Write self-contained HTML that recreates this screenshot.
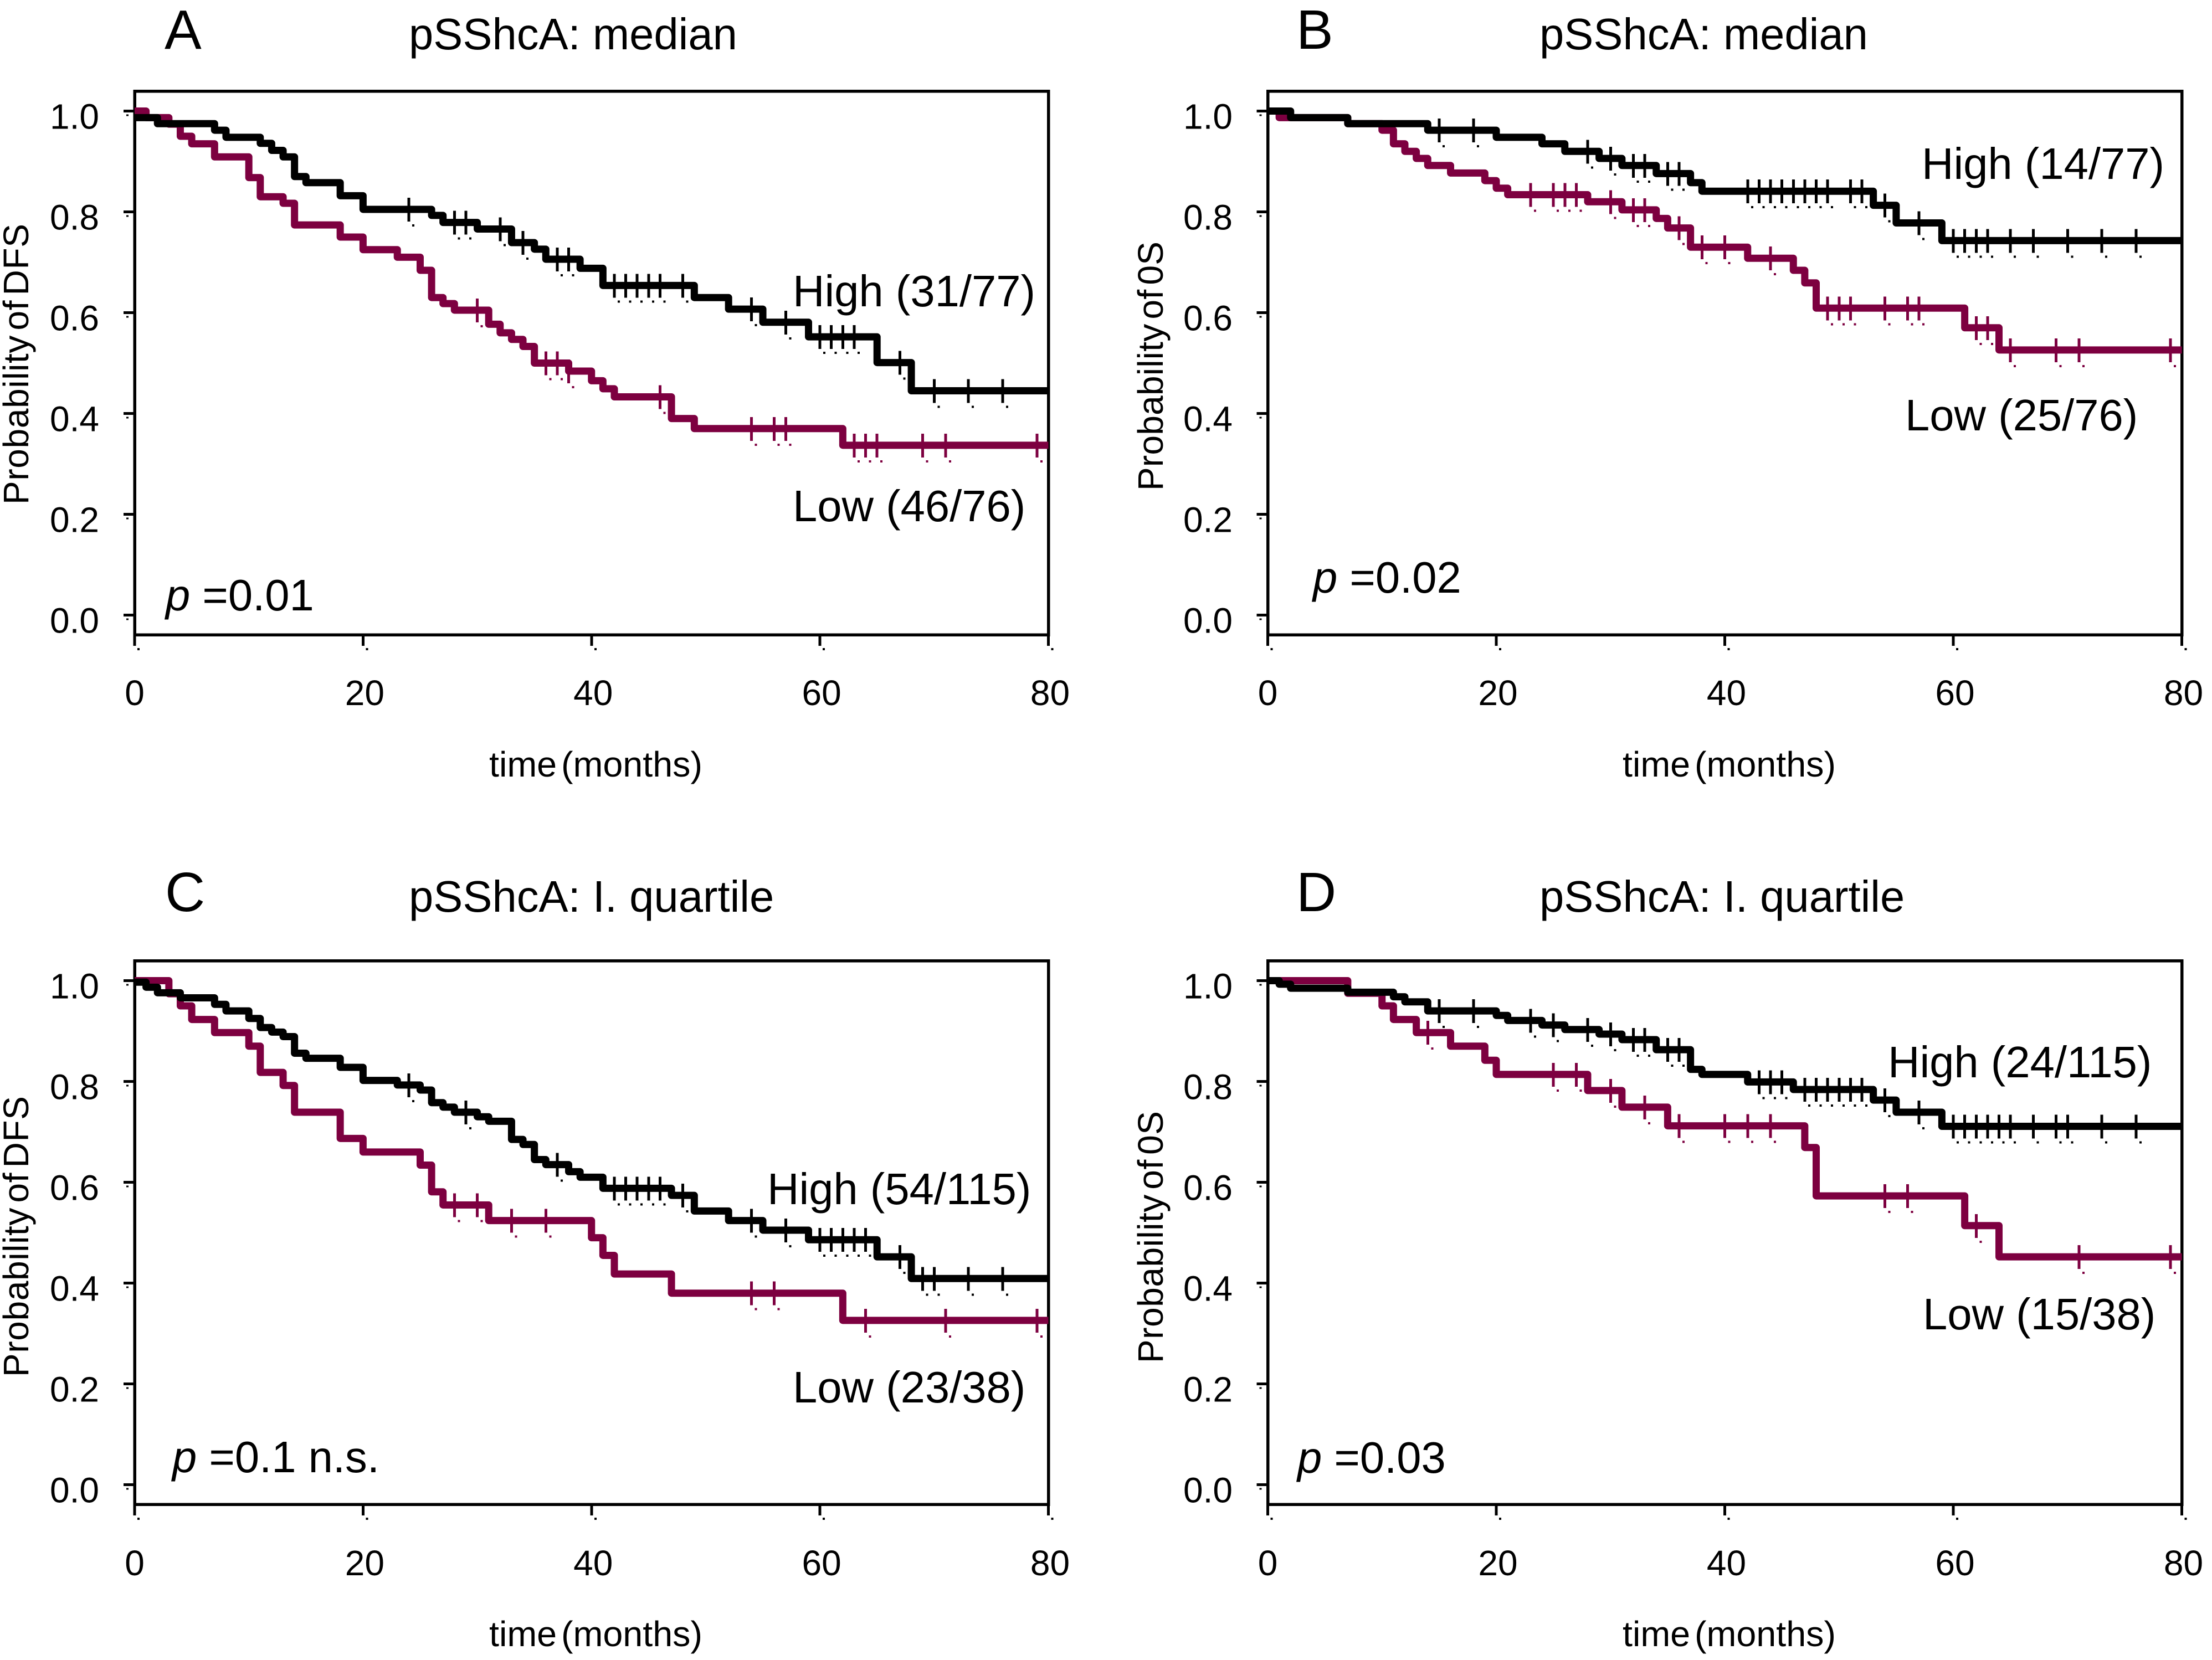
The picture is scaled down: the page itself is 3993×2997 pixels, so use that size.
<!DOCTYPE html>
<html lang="en">
<head>
<meta charset="utf-8">
<title>pSShcA Kaplan-Meier curves</title>
<style>
html,body{margin:0;padding:0;background:#fff;}
svg{display:block;}
text{font-family:"Liberation Sans",Arial,sans-serif;fill:#000;}
.big{font-size:79.6px;}
.letter{font-size:100px;}
.tick{font-size:64px;}
.axt{font-size:64px;word-spacing:-10px;}
</style>
</head>
<body>
<svg id="figure" xmlns="http://www.w3.org/2000/svg" width="3993" height="2997" viewBox="0 0 3993 2997">
<rect x="0" y="0" width="3993" height="2997" fill="#fff"/>
<g id="marks"></g>

<text class="letter" x="297" y="88">A</text>
<text class="big" x="738" y="89">pSShcA: median</text>
<text class="axt" transform="translate(51 911) rotate(-90)" textLength="507" lengthAdjust="spacing">Probability of DFS</text>
<text class="axt" x="883" y="1402" textLength="385" lengthAdjust="spacingAndGlyphs">time (months)</text>
<text class="big" x="1431" y="553">High (31/77)</text>
<text class="big" x="1431" y="941">Low (46/76)</text>
<text class="big" x="299" y="1102"><tspan font-style="italic">p</tspan> =0.01</text>

<text class="letter" x="2340" y="88">B</text>
<text class="big" x="2779" y="89">pSShcA: median</text>
<text class="axt" transform="translate(2099 886) rotate(-90)" textLength="450" lengthAdjust="spacing">Probability of 0S</text>
<text class="axt" x="2929" y="1402" textLength="385" lengthAdjust="spacingAndGlyphs">time (months)</text>
<text class="big" x="3469" y="323">High (14/77)</text>
<text class="big" x="3439" y="777">Low (25/76)</text>
<text class="big" x="2370" y="1070"><tspan font-style="italic">p</tspan> =0.02</text>

<text class="letter" x="298" y="1645">C</text>
<text class="big" x="738" y="1646">pSShcA: I. quartile</text>
<text class="axt" transform="translate(51 2486) rotate(-90)" textLength="507" lengthAdjust="spacing">Probability of DFS</text>
<text class="axt" x="883" y="2972" textLength="385" lengthAdjust="spacingAndGlyphs">time (months)</text>
<text class="big" x="1385" y="2174">High (54/115)</text>
<text class="big" x="1431" y="2532">Low (23/38)</text>
<text class="big" x="311" y="2658"><tspan font-style="italic">p</tspan> =0.1 n.s.</text>

<text class="letter" x="2340" y="1645">D</text>
<text class="big" x="2779" y="1646">pSShcA: I. quartile</text>
<text class="axt" transform="translate(2099 2461) rotate(-90)" textLength="455" lengthAdjust="spacing">Probability of 0S</text>
<text class="axt" x="2929" y="2972" textLength="385" lengthAdjust="spacingAndGlyphs">time (months)</text>
<text class="big" x="3408" y="1945">High (24/115)</text>
<text class="big" x="3471" y="2400">Low (15/38)</text>
<text class="big" x="2342" y="2659"><tspan font-style="italic">p</tspan> =0.03</text>
</svg>

<script>
// Axis tick values and labels
const xTickValues = [0, 20, 40, 60, 80];
const xTickLabels = ["0", "20", "40", "60", "80"];
const yTickValues = [1, 0.8, 0.6, 0.4, 0.2, 0];
const yTickLabels = ["1.0", "0.8", "0.6", "0.4", "0.2", "0.0"];

// Panel A
const aHighTimes = [0,2,7,8,11,12,13,14,15,18,20,26,27,30,33,35,36,39,41,49,52,55,59,65,68];
const aHighSurvival = [.987,.975,.962,.948,.936,.922,.909,.87,.858,.832,.805,.793,.779,.766,.739,.726,.706,.688,.654,.63,.607,.581,.552,.501,.445];
const aHighCensored = [24,28,29,32,34,37,38,42,43,44,45,46,48,54,57,60,61,62,63,67,70,73,76];
const aLowTimes = [0,1,3,4,5,7,10,11,13,14,18,20,23,25,26,27,28,31,32,33,34,35,38,40,41,42,47,49,62];
const aLowSurvival = [1,.987,.974,.95,.935,.909,.868,.83,.817,.774,.75,.725,.71,.684,.63,.618,.605,.577,.56,.547,.533,.5,.484,.465,.449,.433,.39,.37,.337];
const aLowCensored = [30,36,37,38,46,54,56,57,63,64,65,69,71,79];

// Panel B
const bHighTimes = [0,2,7,14,20,24,26,29,31,34,37,38,53,55,59];
const bHighSurvival = [1,.987,.975,.962,.948,.935,.92,.906,.892,.876,.858,.841,.813,.778,.743];
const bHighCensored = [15,18,28,30,32,33,35,36,42,43,44,45,46,47,48,49,51,52,54,57,60,61,62,63,65,67,70,73,76];
const bLowTimes = [0,1,7,10,11,12,13,14,16,19,20,21,28,31,34,35,37,42,46,47,48,61,64];
const bLowSurvival = [1,.987,.975,.962,.935,.92,.906,.892,.877,.862,.847,.834,.82,.804,.787,.768,.73,.708,.684,.659,.609,.57,.526];
const bLowCensored = [23,25,26,27,30,32,33,36,38,40,44,49,50,51,54,56,57,62,63,65,69,71,79];

// Panel C
const cHighTimes = [0,1,2,4,7,8,10,11,12,13,14,15,18,20,23,25,26,27,28,30,31,33,34,35,36,38,39,41,47,49,52,55,59,65,68];
const cHighSurvival = [.997,.987,.976,.966,.953,.94,.925,.907,.898,.889,.856,.846,.828,.802,.793,.783,.758,.749,.739,.73,.721,.685,.675,.645,.635,.621,.61,.588,.574,.543,.524,.505,.486,.452,.409];
const cHighCensored = [24,29,37,42,43,44,45,46,48,54,57,60,61,62,63,64,67,69,70,73,76];
const cLowTimes = [0,3,4,5,7,10,11,13,14,18,20,25,26,27,31,40,41,42,47,62];
const cLowSurvival = [1,.974,.95,.923,.897,.87,.818,.792,.739,.687,.66,.634,.581,.555,.524,.49,.455,.418,.38,.326];
const cLowCensored = [28,30,33,36,54,56,64,71,79];

// Panel D
const dHighTimes = [0,1,2,7,11,12,14,20,21,24,26,29,31,34,37,38,42,46,53,55,59];
const dHighSurvival = [1,.993,.985,.977,.968,.958,.94,.931,.921,.912,.903,.894,.883,.863,.824,.814,.799,.784,.763,.739,.711];
const dHighCensored = [15,18,23,25,28,30,32,33,35,36,43,44,45,47,48,49,50,51,52,54,57,60,61,62,63,64,65,67,69,70,73,76];
const dLowTimes = [0,7,10,11,13,16,19,20,28,31,35,47,48,61,64];
const dLowSurvival = [1,.975,.95,.923,.897,.87,.842,.814,.782,.749,.712,.669,.573,.514,.452];
const dLowCensored = [14,25,27,30,33,36,40,42,44,54,56,62,71,79];

const NS = "http://www.w3.org/2000/svg";
const root = document.getElementById("marks");
const HIGH_COLOR = "#000000";
const LOW_COLOR = "#7d0040";

function make(tag, attrs, parent) {
  const el = document.createElementNS(NS, tag);
  for (const k in attrs) el.setAttribute(k, attrs[k]);
  parent.appendChild(el);
  return el;
}

function survivalAt(times, survival, t) {
  let v = survival[0];
  for (let i = 0; i < times.length; i++) {
    if (times[i] <= t) v = survival[i];
  }
  return v;
}

function drawSeries(group, prefix, times, survival, censored, color, xScale, yScale) {
  let d = "M" + xScale(times[0]) + " " + yScale(survival[0]);
  for (let i = 1; i < times.length; i++) {
    d += "H" + xScale(times[i]) + "V" + yScale(survival[i]);
  }
  d += "H" + xScale(80);
  const line = make("path", {d: d, fill: "none", stroke: color, "stroke-width": 13, "stroke-linejoin": "round"}, group);
  
  

  censored.forEach(function (t) {
    const cx = xScale(t);
    const cy = yScale(survivalAt(times, survival, t));
    const mark = make("rect", {x: cx - 2.5, y: cy - 21, width: 5, height: 43, fill: color, "shape-rendering": "crispEdges"}, group);
    
    
    const dot = make("rect", {x: cx + 6, y: cy + 27, width: 4, height: 4, fill: color, "shape-rendering": "crispEdges"}, group);
    
    
  });
}

function drawPanel(id, left, right, top, bottom, yOne, xLabelY, yLabelX, high, low) {
  const group = make("g", {}, root);
  
  

  const xScale = function (t) { return left + (right - left) * t / 80; };
  const yScale = function (v) { return yOne + 910 * (1 - v); };

  const box = make("rect", {x: left, y: top, width: right - left, height: bottom - top, fill: "none", stroke: "#000", "stroke-width": 5.5, "shape-rendering": "crispEdges"}, group);
  
  

  xTickValues.forEach(function (v, i) {
    const px = xScale(v);
    const tick = make("line", {x1: px, x2: px, y1: bottom, y2: bottom + 20, stroke: "#000", "stroke-width": 5, "shape-rendering": "crispEdges"}, group);
    
    
    const dot = make("rect", {x: px + 5, y: bottom + 24, width: 4, height: 4, fill: "#000", "shape-rendering": "crispEdges"}, group);
    
    
    const label = make("text", {x: px + (v === 0 ? 0 : 3), y: xLabelY, "text-anchor": "middle", class: "tick"}, group);
    
    
    label.textContent = xTickLabels[i];
  });

  yTickValues.forEach(function (v, i) {
    const py = yScale(v);
    const tick = make("line", {x1: left - 20, x2: left, y1: py, y2: py, stroke: "#000", "stroke-width": 5, "shape-rendering": "crispEdges"}, group);
    
    
    const dot = make("rect", {x: left - 15, y: py + 6, width: 4, height: 3, fill: "#000", "shape-rendering": "crispEdges"}, group);
    
    
    const label = make("text", {x: yLabelX, y: py + 32, "text-anchor": "end", class: "tick"}, group);
    
    
    label.textContent = yTickLabels[i];
  });

  drawSeries(group, 'panel-' + id + '-low', low[0], low[1], low[2], LOW_COLOR, xScale, yScale);
  drawSeries(group, 'panel-' + id + '-high', high[0], high[1], high[2], HIGH_COLOR, xScale, yScale);
}

drawPanel("a", 243, 1892.5, 164.5, 1146, 200.5, 1273, 179,
  [aHighTimes, aHighSurvival, aHighCensored], [aLowTimes, aLowSurvival, aLowCensored]);
drawPanel("b", 2288.5, 3938.5, 164.5, 1146, 200.5, 1273, 2225,
  [bHighTimes, bHighSurvival, bHighCensored], [bLowTimes, bLowSurvival, bLowCensored]);
drawPanel("c", 243, 1892.5, 1734.5, 2716, 1770.5, 2844, 179,
  [cHighTimes, cHighSurvival, cHighCensored], [cLowTimes, cLowSurvival, cLowCensored]);
drawPanel("d", 2288.5, 3938.5, 1734.5, 2716, 1770.5, 2844, 2225,
  [dHighTimes, dHighSurvival, dHighCensored], [dLowTimes, dLowSurvival, dLowCensored]);
</script>
</body>
</html>
